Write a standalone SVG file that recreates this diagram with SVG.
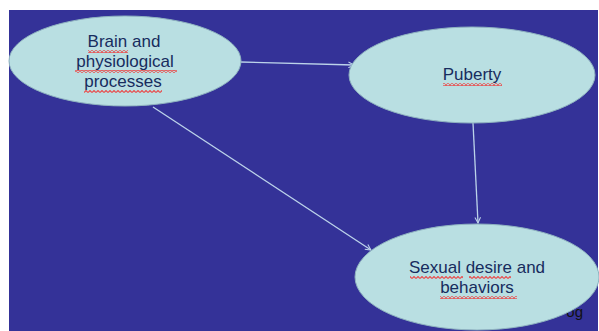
<svg xmlns="http://www.w3.org/2000/svg" width="599" height="331" viewBox="0 0 599 331">
<defs>
<style>
.node{fill:#b9dfe2;stroke:#8fb3c0;stroke-width:1}
.lbl{font-family:"Liberation Sans",Arial,sans-serif;font-size:17px;fill:#172c5e;text-anchor:middle}
.edge{stroke:#bcd3ea;stroke-width:1.3;fill:none}
.sq{fill:url(#wave)}
</style>
<pattern id="wave" patternUnits="userSpaceOnUse" width="4" height="3">
<path d="M0 2.5 L2 0.5 L4 2.5" fill="none" stroke="#e8504f" stroke-width="1.2"/>
</pattern>
<marker id="arr" viewBox="0 0 10 10" refX="9" refY="5" markerWidth="7" markerHeight="7" orient="auto" markerUnits="userSpaceOnUse">
<path d="M1 1 L9 5 L1 9" fill="none" stroke="#bcd3ea" stroke-width="1.5"/>
</marker>
</defs>
<rect x="0" y="0" width="599" height="331" fill="#ffffff"/>
<rect x="9" y="10" width="589" height="321" fill="#343298"/>
<text x="583" y="317" font-family="'Liberation Sans',Arial,sans-serif" font-size="15" fill="#111" text-anchor="end">og</text>
<g id="connectors">
<line class="edge" x1="240" y1="62" x2="354" y2="65" marker-end="url(#arr)"/>
<line class="edge" x1="153" y1="107" x2="371" y2="250" marker-end="url(#arr)"/>
<line class="edge" x1="473" y1="123" x2="478" y2="223" marker-end="url(#arr)"/>
</g>
<g id="brain">
<ellipse class="node" cx="125" cy="61" rx="116" ry="45"/>
<text class="lbl" x="124" y="47">Brain and</text>
<text class="lbl" x="125" y="67">physiological</text>
<text class="lbl" x="123" y="87">processes</text>
<rect class="sq" x="88" y="50" width="40" height="3"/>
<rect class="sq" x="75" y="70" width="102" height="3"/>
<rect class="sq" x="84" y="90" width="78" height="3"/>
</g>
<g id="puberty">
<ellipse class="node" cx="472" cy="75" rx="123" ry="48"/>
<text class="lbl" x="472" y="80">Puberty</text>
<rect class="sq" x="443" y="83" width="59" height="3"/>
</g>
<g id="sexual">
<ellipse class="node" cx="477" cy="277" rx="122" ry="53"/>
<text class="lbl" x="477" y="273">Sexual desire and</text>
<text class="lbl" x="477" y="293">behaviors</text>
<rect class="sq" x="410" y="276" width="53" height="3"/>
<rect class="sq" x="469" y="276" width="42" height="3"/>
<rect class="sq" x="440" y="296" width="77" height="3"/>
</g>
</svg>
